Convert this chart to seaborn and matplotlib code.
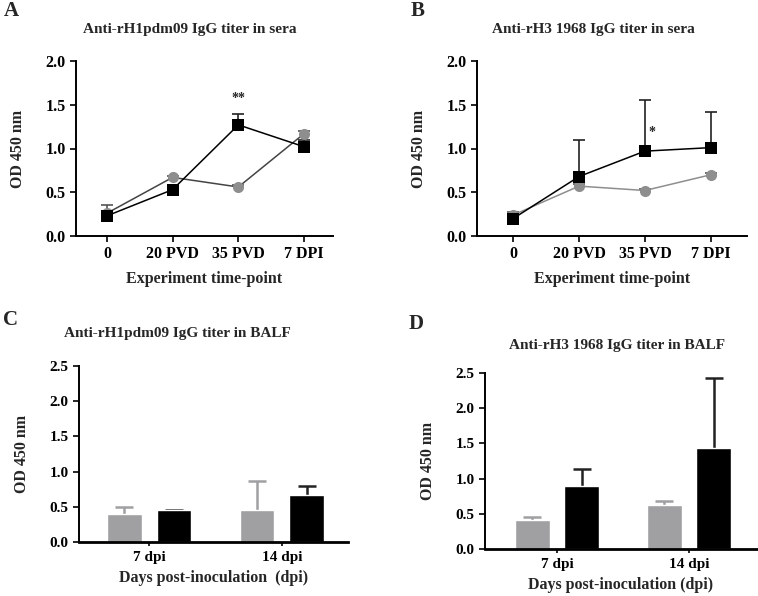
import numpy as np
import pandas as pd
import matplotlib
matplotlib.use("Agg")
import matplotlib.pyplot as plt
import seaborn as sns

# DATA
time_points = ["0", "20 PVD", "35 PVD", "7 DPI"]
dpi_labels = ["7 dpi", "14 dpi"]

# panel A - anti-rH1pdm09 in sera
a_black = [0.23, 0.53, 1.27, 1.02]
a_black_err = [0.03, 0.03, 0.13, 0.08]
a_grey = [0.26, 0.67, 0.56, 1.17]
a_grey_err = [0.09, 0.02, 0.02, 0.03]

# panel B - anti-rH3 1968 in sera
b_black = [0.20, 0.68, 0.97, 1.01]
b_black_err = [0.03, 0.42, 0.58, 0.41]
b_grey = [0.24, 0.57, 0.52, 0.70]
b_grey_err = [0.03, 0.02, 0.02, 0.02]

# panel C - anti-rH1pdm09 in BALF
c_grey = [0.40, 0.45]
c_grey_err = [0.10, 0.42]
c_black = [0.45, 0.67]
c_black_err = [0.01, 0.13]

# panel D - anti-rH3 1968 in BALF
d_grey = [0.41, 0.63]
d_grey_err = [0.05, 0.05]
d_black = [0.90, 1.43]
d_black_err = [0.23, 1.00]

GREY_BAR = "#a0a0a2"
GREY_PT = "#8e8e8e"

sns.set_style("ticks")
plt.rcParams['font.family'] = ['Liberation Serif', 'DejaVu Serif']
plt.rcParams['font.weight'] = 'bold'
plt.rcParams['axes.labelweight'] = 'bold'
plt.rcParams['axes.linewidth'] = 1.4
plt.rcParams['xtick.major.width'] = 1.2
plt.rcParams['ytick.major.width'] = 1.2
plt.rcParams['xtick.major.size'] = 4
plt.rcParams['ytick.major.size'] = 4
plt.rcParams['xtick.color'] = 'black'
plt.rcParams['ytick.color'] = 'black'
plt.rcParams['axes.edgecolor'] = 'black'

fig = plt.figure(figsize=(7.58, 5.96), dpi=100)

W, H = 758.0, 596.0
def box(l, t, r, b):
    return [l / W, 1 - b / H, (r - l) / W, (b - t) / H]

ax_a = fig.add_axes(box(76, 61, 333, 236))
ax_b = fig.add_axes(box(477, 61, 747, 236))
ax_c = fig.add_axes(box(79, 366, 348, 542))
ax_d = fig.add_axes(box(485, 373, 757, 549))


# upper-only error bars (stem + cap at the top)
def upper_err(ax, x, y, err, color, lw, cap, z):
    top = np.asarray(y) + np.asarray(err)
    ax.vlines(x, y, top, color=color, linewidth=lw, zorder=z)
    ax.plot(x, top, linestyle='none', marker='_', markersize=cap,
            markeredgewidth=lw, color=color, zorder=z)


def line_panel(ax, grey, grey_err, black, black_err, grey_line, xlim):
    df = pd.DataFrame({
        "pos": list(range(len(time_points))) * 2,
        "od": grey + black,
        "group": ["grey"] * len(grey) + ["black"] * len(black),
    })
    sns.lineplot(data=df, x="pos", y="od", hue="group", style="group",
                 markers={"grey": "o", "black": "s"}, dashes=False,
                 palette={"grey": GREY_PT, "black": "black"},
                 markersize=8, markeredgewidth=0, linewidth=1.1,
                 legend=False, ax=ax, zorder=3)
    ax.lines[0].set_color(grey_line)
    ax.lines[0].set_markerfacecolor(GREY_PT)
    x = np.arange(len(time_points))
    upper_err(ax, x, black, black_err, '#222222', 1.2, 8, 2)
    upper_err(ax, x, grey, grey_err, '#555555', 1.2, 8, 2)
    ax.set_xlim(*xlim)
    ax.set_ylim(0, 2.0)
    ax.set_yticks([0, 0.5, 1.0, 1.5, 2.0])
    ax.set_yticklabels(["0.0", "0.5", "1.0", "1.5", "2.0"])
    ax.set_xticks(x)
    ax.set_xticklabels(time_points)
    ax.set_xlabel("Experiment time-point", fontsize=11.5, labelpad=6)
    ax.set_ylabel("OD 450 nm", fontsize=11.5, labelpad=14)
    ax.tick_params(labelsize=11.5)
    sns.despine(ax=ax)


def bar_panel(ax, grey, grey_err, black, black_err, xlim, xlabel):
    df = pd.DataFrame({
        "day": dpi_labels * 2,
        "od": grey + black,
        "group": ["grey"] * len(grey) + ["black"] * len(black),
    })
    sns.barplot(data=df, x="day", y="od", hue="group", order=dpi_labels,
                hue_order=["grey", "black"],
                palette={"grey": GREY_BAR, "black": "black"},
                width=0.75, gap=0.3, errorbar=None, saturation=1,
                legend=False, ax=ax, zorder=2)
    patches = ax.patches[:4]
    centers = [p.get_x() + p.get_width() / 2 for p in patches]
    upper_err(ax, centers[:2], grey, grey_err, GREY_BAR, 1.8, 13, 1)
    upper_err(ax, centers[2:], black, black_err, '#222222', 1.8, 13, 1)
    ax.set_xlim(*xlim)
    ax.set_ylim(0, 2.5)
    ax.set_yticks([0, 0.5, 1.0, 1.5, 2.0, 2.5])
    ax.set_yticklabels(["0.0", "0.5", "1.0", "1.5", "2.0", "2.5"])
    ax.set_xlabel(xlabel, fontsize=11.5, labelpad=4)
    ax.set_ylabel("OD 450 nm", fontsize=11.5, labelpad=14)
    ax.tick_params(labelsize=11)
    ax.tick_params(axis='x', length=3)
    ax.spines['bottom'].set_linewidth(2.0)
    sns.despine(ax=ax)


line_panel(ax_a, a_grey, a_grey_err, a_black, a_black_err, "#444444", (-0.47, 3.44))
line_panel(ax_b, b_grey, b_grey_err, b_black, b_black_err, GREY_PT, (-0.55, 3.55))
bar_panel(ax_c, c_grey, c_grey_err, c_black, c_black_err, (-0.53, 1.50),
          "Days post-inoculation  (dpi)")
bar_panel(ax_d, d_grey, d_grey_err, d_black, d_black_err, (-0.545, 1.515),
          "Days post-inoculation (dpi)")

# significance marks
ax_a.text(2, 1.57, "**", ha='center', va='center', fontsize=10)
ax_b.text(2.1, 1.18, "*", ha='center', va='center', fontsize=10)

# titles and panel letters
fig.text(190 / W, 1 - 30 / H, "Anti-rH1pdm09 IgG titer in sera", ha='center', va='center', fontsize=11)
fig.text(593 / W, 1 - 29 / H, "Anti-rH3 1968 IgG titer in sera", ha='center', va='center', fontsize=11)
fig.text(177 / W, 1 - 333 / H, "Anti-rH1pdm09 IgG titer in BALF", ha='center', va='center', fontsize=11)
fig.text(617 / W, 1 - 345 / H, "Anti-rH3 1968 IgG titer in BALF", ha='center', va='center', fontsize=11)

fig.text(11 / W, 1 - 11 / H, "A", ha='center', va='center', fontsize=15)
fig.text(418 / W, 1 - 11 / H, "B", ha='center', va='center', fontsize=15)
fig.text(10 / W, 1 - 320 / H, "C", ha='center', va='center', fontsize=15)
fig.text(416 / W, 1 - 324 / H, "D", ha='center', va='center', fontsize=15)

fig.savefig("out.png", dpi=100)
